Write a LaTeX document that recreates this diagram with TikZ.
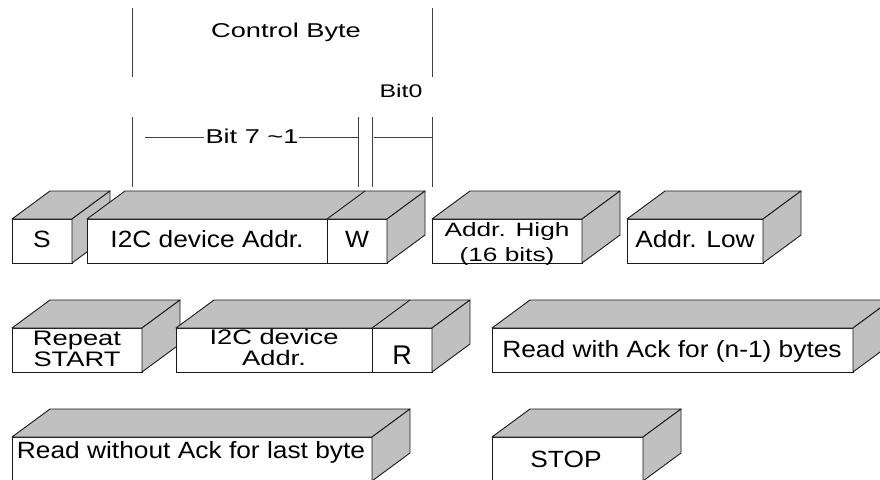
\documentclass[tikz,border=0pt]{standalone}
\usepackage{fontspec}
\setmainfont[FakeStretch=1.12]{Liberation Sans}
\newfontfamily\wideA[FakeStretch=1.36]{Liberation Sans}
\newfontfamily\wideB[FakeStretch=1.3]{Liberation Sans}
\newfontfamily\plainf{Liberation Sans}
\definecolor{edge}{HTML}{1A1A1A}
\definecolor{boxgray}{HTML}{C0C0C0}
\definecolor{dimgray}{HTML}{404040}
\newcommand\boxtop[2]{%
  \filldraw[face] (#1.north west) -- ++(38,-28) -- ([shift={(38,-28)}]#2.north east) -- (#2.north east) -- cycle;
  \filldraw[face] (#2.north east) -- ++(38,-28) -- ([shift={(38,-28)}]#2.south east) -- (#2.south east) -- cycle;}
\begin{document}
\begin{tikzpicture}[x=1pt,y=-1pt,
  box/.style={draw=edge, fill=white, line width=0.9pt, minimum height=44pt, inner sep=0pt, outer sep=0pt, anchor=north west},
  face/.style={draw=edge, fill=boxgray, line width=0.9pt, line join=round},
  divider/.style={draw=edge, line width=0.9pt},
  lbl/.style={anchor=base, inner sep=0pt, font=\fontsize{23.5}{21}\selectfont},
  lblB/.style={anchor=base, inner sep=0pt, font=\wideB\fontsize{21}{21}\selectfont},
  lblA/.style={anchor=base, inner sep=0pt, font=\wideA\fontsize{19.3}{21}\selectfont},
  dim/.style={draw=dimgray, line width=0.8pt}]
\clip (0,0) rectangle (880,479);
\fill[white] (0,0) rectangle (880,479);

% ---- row 1
\node[box, minimum width=60pt]  (s)    at (12,219) {};
\boxtop{s}{s}
\node[box, minimum width=240pt] (addr) at (87,219) {};
\node[box, minimum width=60pt]  (w)    at (addr.north east) {};
\boxtop{addr}{w}
\draw[divider] (addr.north east) -- ++(38,-28);
\node[box, minimum width=150pt] (high) at (432,219) {};
\boxtop{high}{high}
\node[box, minimum width=136pt] (low)  at (627,219) {};
\boxtop{low}{low}
\node[lbl] (ls) at (42,247) {S};
\node[lbl] (laddr) at (207,247) {I2C device Addr.};
\node[lbl, font=\fontsize{23.5}{21}\selectfont\addfontfeature{FakeStretch=1.08}] (lw) at (357,247) {W};
\node[lblA] (lhigh1) at (507,236) {Addr. High};
\node[lblA] (lhigh2) at (507,261) {(16 bits)};
\node[lbl] (llow) at (695,247) {Addr. Low};

% ---- row 2
\node[box, minimum width=130pt] (rep)   at (12,328) {};
\boxtop{rep}{rep}
\node[box, minimum width=196pt] (addr2) at (176,328) {};
\node[box, minimum width=60pt]  (r)     at (addr2.north east) {};
\boxtop{addr2}{r}
\draw[divider] (addr2.north east) -- ++(38,-28);
\node[box, minimum width=361pt] (rack)  at (492,328) {};
\boxtop{rack}{rack}
\node[lblB] (lrep1) at (77,345) {Repeat};
\node[lblB] (lrep2) at (77,366) {START};
\node[lblB] (laddr21) at (274,344) {I2C device};
\node[lblB] (laddr22) at (274,365) {Addr.};
\node[anchor=base, inner sep=0pt, font=\plainf\fontsize{27}{21}\selectfont] (lr) at (402,364) {R};
\node[lbl] (lrack) at (672,357) {Read with Ack for (n-1) bytes};

% ---- row 3
\node[box, minimum width=360pt] (rnack) at (12,437) {};
\boxtop{rnack}{rnack}
\node[box, minimum width=151pt] (stop)  at (492,437) {};
\boxtop{stop}{stop}
\node[lbl] (lrnack) at (191,458) {Read without Ack for last byte};
\node[lbl] (lstop) at (566,467) {STOP};

% ---- control byte annotation
\coordinate (cbl1) at (132,8);  \coordinate (cbl2) at (132,77);
\coordinate (cbr1) at (432,8);  \coordinate (cbr2) at (432,77);
\draw[dim] (cbl1) -- (cbl2);
\draw[dim] (cbr1) -- (cbr2);
\node[lblA, font=\wideA\fontsize{20}{21}\selectfont] (cb) at (286,37) {Control Byte};
\node[lblA, font=\wideA\fontsize{18.3}{21}\selectfont] (b0) at (401,97) {Bit0};
\coordinate (v1a) at (132,117); \coordinate (v1b) at (132,187);
\coordinate (v2a) at (358,117); \coordinate (v2b) at (358,187);
\coordinate (v3a) at (372,117); \coordinate (v3b) at (372,187);
\coordinate (v4a) at (432,117); \coordinate (v4b) at (432,187);
\draw[dim] (v1a) -- (v1b);
\draw[dim] (v2a) -- (v2b);
\draw[dim] (v3a) -- (v3b);
\draw[dim] (v4a) -- (v4b);
\node[lblA, font=\wideA\fontsize{20}{21}\selectfont] (b71) at (252,143) {Bit 7 \textasciitilde1};
\coordinate (h1a) at (145,137); \coordinate (h1b) at (204,137);
\coordinate (h2a) at (299,137); \coordinate (h2b) at (358,137);
\coordinate (h3a) at (374,137); \coordinate (h3b) at (432,137);
\draw[dim] (h1a) -- (h1b);
\draw[dim] (h2a) -- (h2b);
\draw[dim] (h3a) -- (h3b);
\end{tikzpicture}
\end{document}
